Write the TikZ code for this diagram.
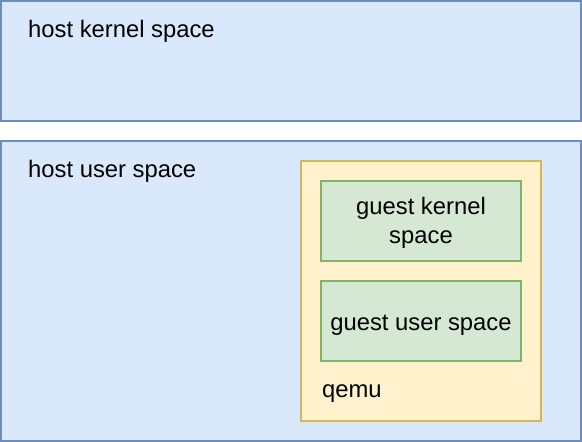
\documentclass[tikz,border=0pt]{standalone}
\usepackage{fontspec}
\setmainfont{Liberation Sans}
\definecolor{bluefill}{HTML}{DAE8FC}
\definecolor{bluedraw}{HTML}{6C8EBF}
\definecolor{yellowfill}{HTML}{FFF2CC}
\definecolor{yellowdraw}{HTML}{D6B656}
\definecolor{greenfill}{HTML}{D5E8D4}
\definecolor{greendraw}{HTML}{82B366}
\begin{document}
\begin{tikzpicture}[x=1pt,y=-1pt,
  box/.style={draw, line width=2pt, inner sep=0pt, outer sep=0pt},
  bluebox/.style={box, fill=bluefill, draw=bluedraw},
  yellowbox/.style={box, fill=yellowfill, draw=yellowdraw},
  greenbox/.style={box, fill=greenfill, draw=greendraw},
  lbl/.style={inner sep=0pt, font=\fontsize{23.8}{29}\selectfont, text=black}
]
\useasboundingbox (0,0) rectangle (582,442);
\node[bluebox, minimum width=580pt, minimum height=120pt] (hk) at (291,61) {};
\node[bluebox, minimum width=580pt, minimum height=300pt] (hu) at (291,291) {};
\node[yellowbox, minimum width=240pt, minimum height=260pt] (qemu) at (421,291) {};
\node[greenbox, minimum width=200pt, minimum height=80pt] (gk) at (421,221) {};
\node[greenbox, minimum width=200pt, minimum height=80pt] (gu) at (421,321) {};
\node[lbl, anchor=base west] (hkl) at (28,37) {host kernel space};
\node[lbl, anchor=base west] (hul) at (28,177) {host user space};
\node[lbl, anchor=base west] (ql) at (322,397) {qemu};
\node[lbl, align=center] (gkl) at (421,223) {guest kernel\\space};
\node[lbl, anchor=base] (gul) at (421,330) {guest user space};
\end{tikzpicture}
\end{document}
